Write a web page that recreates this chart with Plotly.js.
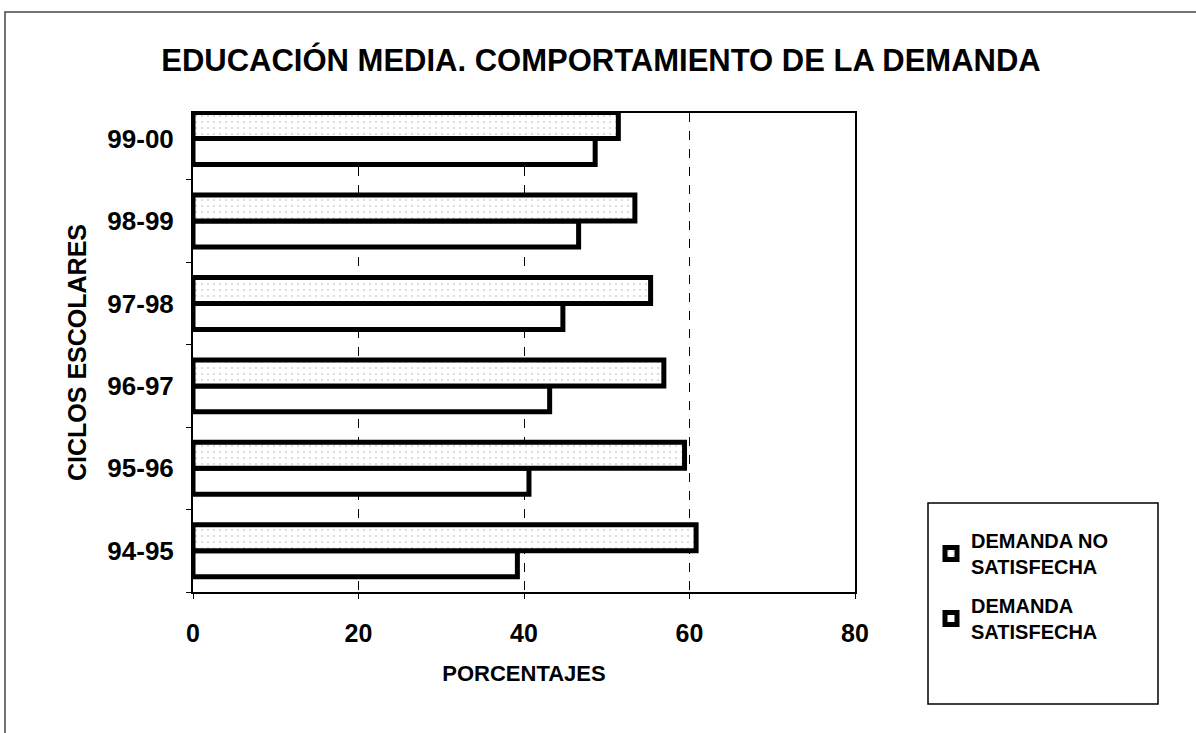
<!DOCTYPE html>
<html>
<head>
<meta charset="utf-8">
<script src="https://cdn.plot.ly/plotly-3.0.1.min.js"></script>
<style>html,body{margin:0;padding:0;background:#fff;}#chart{width:1196px;height:733px;}</style>
</head>
<body>
<div id="chart"></div>
<script>
const ciclos = ['94-95', '95-96', '96-97', '97-98', '98-99', '99-00'];
const noSatisfecha = [60.8, 59.4, 56.9, 55.3, 53.4, 51.4];
const satisfecha = [39.2, 40.6, 43.1, 44.7, 46.6, 48.6];
const xTicks = [0, 20, 40, 60, 80];
const nombreNo = 'DEMANDA NO<br>SATISFECHA';
const nombreSi = 'DEMANDA<br>SATISFECHA';

const FONT = 'Liberation Sans, Arial, sans-serif';
const L = 193, R = 855, T = 113, B = 592;
const W = 1196, H = 733;
const px = v => (v - L) / (R - L);
const py = v => (B - v) / (B - T);

const traces = [
  {
    type: 'bar', orientation: 'h', y: ciclos, x: satisfecha, name: nombreSi,
    legendgroup: 'b', legendrank: 2000,
    marker: {color: '#ffffff', line: {color: '#000000', width: 5}},
    hoverinfo: 'x+y'
  },
  {
    type: 'bar', orientation: 'h', y: ciclos, x: noSatisfecha, name: nombreNo,
    legendgroup: 'a', legendrank: 1,
    marker: {color: '#f8f8f8', line: {color: '#000000', width: 5},
             pattern: {shape: '.', fgcolor: '#b0b0b0', bgcolor: '#ffffff', size: 6, solidity: 0.06}},
    hoverinfo: 'x+y'
  }
];

const layout = {
  width: W, height: H,
  margin: {l: L, r: W - R, t: T, b: H - B, pad: 0},
  paper_bgcolor: '#ffffff', plot_bgcolor: '#ffffff',
  font: {family: FONT, color: '#000000'},
  title: {
    text: 'EDUCACIÓN MEDIA. COMPORTAMIENTO DE LA DEMANDA',
    font: {family: FONT, size: 31, weight: 'bold', color: '#000'},
    x: 601 / W, xanchor: 'center', xref: 'container',
    y: 1 - 60 / H, yanchor: 'middle', yref: 'container'
  },
  barmode: 'group', bargap: 0.37, bargroupgap: 0,
  xaxis: {
    range: [0, 80], tickvals: xTicks, ticktext: xTicks.map(String),
    showgrid: true, gridcolor: '#000000', griddash: 'dash', gridwidth: 1,
    zeroline: false, showline: true, linecolor: '#000', linewidth: 2, mirror: true,
    ticks: 'outside', ticklen: 5, tickcolor: '#000', tickwidth: 1,
    tickfont: {family: FONT, size: 25, weight: 'bold', color: '#000'},
    ticklabelstandoff: 13,
    title: {text: 'PORCENTAJES', font: {family: FONT, size: 22, weight: 'bold', color: '#000'}, standoff: 20},
    fixedrange: true
  },
  yaxis: {
    type: 'category', categoryorder: 'array', categoryarray: ciclos,
    range: [-0.5, 5.31],
    showgrid: false, zeroline: false, showline: true, linecolor: '#000', linewidth: 2, mirror: true,
    ticks: 'outside', tickson: 'boundaries', ticklen: 5, tickcolor: '#000', tickwidth: 1,
    tickfont: {family: FONT, size: 26, weight: 'bold', color: '#000'},
    ticklabelstandoff: 12,
    title: {text: 'CICLOS ESCOLARES', font: {family: FONT, size: 25, weight: 'bold', color: '#000'}, standoff: 14},
    fixedrange: true
  },
  showlegend: true,
  legend: {
    x: px(931), xanchor: 'left', y: py(521), yanchor: 'top',
    bgcolor: 'rgba(0,0,0,0)', borderwidth: 0,
    font: {family: FONT, size: 20, weight: 'bold', color: '#000'},
    tracegroupgap: 10, itemwidth: 30, traceorder: 'grouped'
  },
  shapes: [
    {type: 'rect', xref: 'paper', yref: 'paper', x0: px(928), x1: px(1158), y0: py(704), y1: py(503),
     line: {color: '#000', width: 1.5}, fillcolor: 'rgba(0,0,0,0)', layer: 'above'},
    {type: 'rect', xref: 'paper', yref: 'paper', x0: px(5), x1: px(1205), y0: py(745), y1: py(12),
     line: {color: '#444', width: 1.5}, fillcolor: 'rgba(0,0,0,0)', layer: 'below'}
  ]
};

Plotly.newPlot('chart', traces, layout, {displayModeBar: false, staticPlot: true});
</script>
</body>
</html>
